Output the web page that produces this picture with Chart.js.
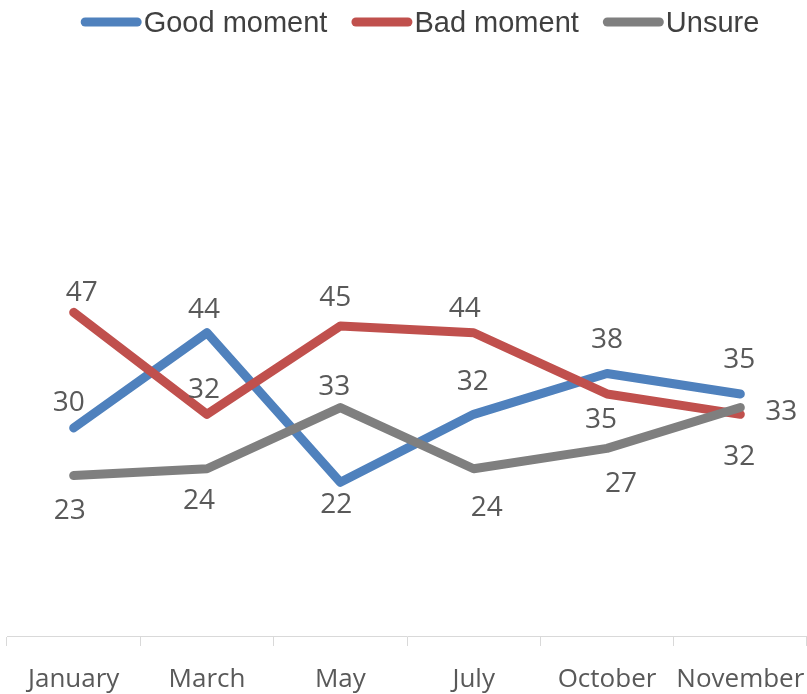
<!DOCTYPE html>
<html>
<head>
<meta charset="utf-8">
<script src="https://cdn.jsdelivr.net/npm/chart.js@4.4.1/dist/chart.umd.min.js"></script>
<style>
  body { margin: 0; background: #fff; overflow: hidden; }
  #wrap { width: 807px; height: 694px; position: relative; }
</style>
</head>
<body>
<div id="wrap"><canvas id="myChart"></canvas></div>
<script>
// data
var months = ["January", "March", "May", "July", "October", "November"];
var goodMoment = [30, 44, 22, 32, 38, 35];
var badMoment = [47, 32, 45, 44, 35, 32];
var unsure = [23, 24, 33, 24, 27, 33];

// where each value label sits relative to its point (dx, dy to the text centre)
var labelOffsets = [
  [[-5, -27], [-3, -25], [-4, 21], [-1, -34], [0, -36], [-1, -36]],
  [[8, -21], [-3, -26], [-5, -30], [-9, -26], [-6, 24], [-1, 41]],
  [[-4, 33], [-8, 30], [-6, -23], [13, 37], [14, 34], [41, 2]]
];

var valueLabels = {
  id: "valueLabels",
  afterDatasetsDraw: function (chart) {
    var ctx = chart.ctx;
    ctx.save();
    ctx.font = "28px 'Open Sans'";
    ctx.fillStyle = "#595959";
    ctx.textAlign = "center";
    ctx.textBaseline = "alphabetic";
    chart.data.datasets.forEach(function (ds, i) {
      var meta = chart.getDatasetMeta(i);
      meta.data.forEach(function (pt, j) {
        var off = labelOffsets[i][j];
        ctx.fillText(ds.data[j], pt.x + off[0], pt.y + off[1] + 10);
      });
    });
    ctx.restore();
  }
};

// legend drawn by hand: long rounded swatch right next to the text
var lineLegend = {
  id: "lineLegend",
  afterDraw: function (chart) {
    var ctx = chart.ctx;
    ctx.save();
    ctx.font = "29px 'Liberation Sans', Arial";
    var swatch = 61, gap = 2, between = 24;
    var items = chart.data.datasets.map(function (ds) {
      return { text: ds.label, color: ds.borderColor, w: ctx.measureText(ds.label).width };
    });
    var total = 0;
    items.forEach(function (it, k) {
      total += swatch + gap + it.w + (k > 0 ? between : 0);
    });
    var x = 420 - total / 2;
    items.forEach(function (it) {
      ctx.strokeStyle = it.color;
      ctx.lineWidth = 9;
      ctx.lineCap = "round";
      ctx.beginPath();
      ctx.moveTo(x + 4.5, 22);
      ctx.lineTo(x + swatch - 4.5, 22);
      ctx.stroke();
      ctx.fillStyle = "#404040";
      ctx.textBaseline = "alphabetic";
      ctx.fillText(it.text, x + swatch + gap, 32);
      x += swatch + gap + it.w + between;
    });
    ctx.restore();
  }
};

function lineSet(label, data, color, order) {
  return {
    label: label,
    data: data,
    borderColor: color,
    backgroundColor: color,
    borderWidth: 9,
    borderCapStyle: "round",
    borderJoinStyle: "round",
    pointRadius: 0,
    pointHoverRadius: 0,
    tension: 0,
    fill: false,
    order: order
  };
}

var ctx = document.getElementById("myChart").getContext("2d");
var myChart = new Chart(ctx, {
  type: "line",
  data: {
    labels: months,
    datasets: [
      lineSet("Good moment", goodMoment, "#4f81bd", 3),
      lineSet("Bad moment", badMoment, "#c0504d", 2),
      lineSet("Unsure", unsure, "#7f7f7f", 1)
    ]
  },
  options: {
    responsive: true,
    maintainAspectRatio: false,
    animation: false,
    layout: { padding: { left: 7, right: 0, top: 88, bottom: -20 } },
    plugins: {
      legend: { display: false },
      tooltip: { enabled: false }
    },
    scales: {
      x: {
        offset: true,
        grid: {
          offset: true,
          drawOnChartArea: false,
          drawTicks: true,
          tickLength: 10,
          color: "#d9d9d9"
        },
        border: { color: "#d9d9d9", width: 1 },
        ticks: {
          color: "#595959",
          font: { family: "Open Sans", size: 26, lineHeight: "68px" },
          padding: 0,
          maxRotation: 0,
          autoSkip: false
        }
      },
      y: {
        display: false,
        min: -0.6,
        max: 80
      }
    }
  },
  plugins: [valueLabels, lineLegend]
});
</script>
</body>
</html>
